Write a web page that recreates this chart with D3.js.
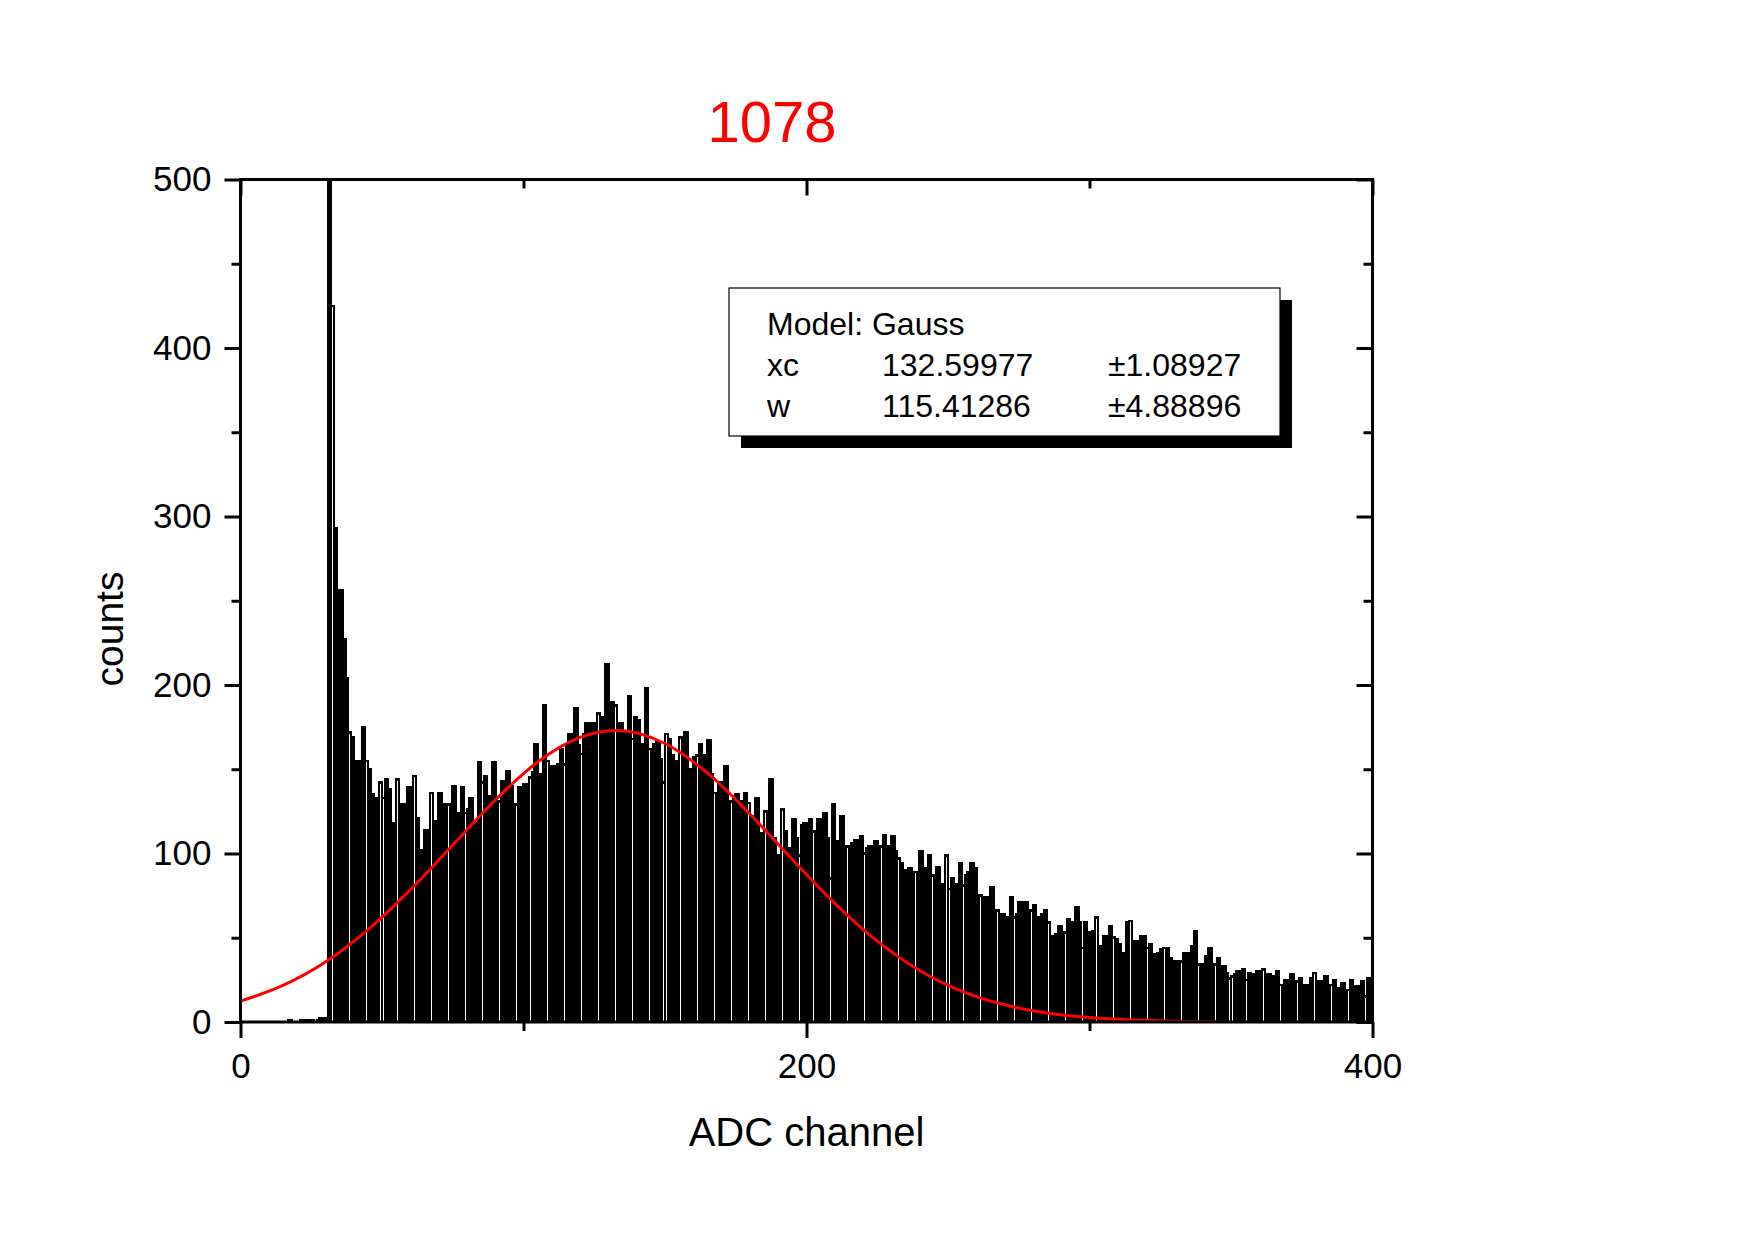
<!DOCTYPE html>
<html><head><meta charset="utf-8">
<script src="https://cdn.jsdelivr.net/npm/d3@7/dist/d3.min.js"></script>
<style>
body{margin:0;background:#fff}
svg{display:block}
text{font-family:"Liberation Sans",Arial,Helvetica,sans-serif}
</style>
</head><body>
<svg id="chart" width="1754" height="1239"></svg>
<script>
// ---------- data ----------
const title = "1078";
const xLabel = "ADC channel";
const yLabel = "counts";
const xMajorTicks = [0, 200, 400];
const xMinorTicks = [100, 300];
const yMajorTicks = [0, 100, 200, 300, 400, 500];
const yMinorTicks = [50, 150, 250, 350, 450];

// counts per ADC channel, channel 0 .. 399
const counts = [
  0,0,0,0,0,0,0,0,0,0,0,0,0,0,0,0,0,
  1,0,0,0,1,0,1,1,1,0,1,2,1,2,
  560,425,293,247,256,227,204,172,169,148,155,146,175,155,150,135,129,133,142,133,144,138,
  114,118,144,117,129,108,139,119,146,121,98,102,114,103,136,119,101,136,89,129,129,115,140,124,112,139,124,126,133,118,117,154,142,146,132,134,154,129,131,143,120,149,140,127,129,139,135,
  141,139,145,148,165,147,135,188,155,152,148,152,153,162,153,164,171,153,186,164,159,171,
  177,169,177,174,183,168,181,
  212,
  169,190,188,176,177,172,148,193,168,181,179,165,148,
  198,
  162,156,165,166,156,142,171,168,158,152,155,169,156,
  172,
  150,136,157,158,165,158,147,
  167,
  147,136,124,142,141,
  152,
  126,131,132,135,131,130,136,130,122,108,133,101,112,125,120,
  144,
  109,94,99,126,113,98,103,
  120,
  109,99,117,118,
  112,120,113,111,120,106,124,109,85,
  129,
  107,102,122,91,104,89,106,108,108,110,100,103,104,100,107,104,104,111,98,104,110,101,97,94,87,90,91,73,89,82,
  101,
  91,85,99,87,75,92,64,82,99,79,85,75,82,
  94,
  81,87,89,94,91,70,75,74,71,74,80,66,66,58,64,60,62,
  74,62,64,71,
  63,71,64,66,69,53,62,64,66,59,51,47,52,57,44,53,61,49,59,68,59,44,
  59,
  52,53,54,62,43,45,51,35,57,50,49,46,33,41,
  59,
  60,34,48,39,51,51,44,46,34,40,41,43,44,44,38,29,36,33,36,41,28,41,45,
  54,
  34,34,32,39,44,30,34,38,22,33,29,26,27,28,
  30,27,31,25,29,28,22,30,26,31,24,28,19,27,30,22,17,25,20,28,15,24,26,19,
  22,17,26,29,18,24,20,27,14,22,25,16,20,23,12,19,25,14,21,18,24,15,26,20
];

// red fit curve
const fitX = [0, 15, 30, 45, 60, 75, 90, 105, 120, 133, 150, 165, 180, 195, 210, 225, 240, 255, 270, 285, 300, 315, 330, 345];
const fitY = [12.4, 21.7, 35.6, 54.7, 78.4, 105, 131.7, 154.3, 168.9, 173, 165.3, 147.8, 123.4, 96.4, 70.4, 48, 30.6, 18.2, 10.2, 5.3, 2.6, 1.2, 0.5, 0.2];

const legendTitle = "Model: Gauss";
const legendNames = ["xc", "w"];
const legendValues = ["132.59977", "115.41286"];
const legendErrors = ["\u00B11.08927", "\u00B14.88896"];

// ---------- drawing ----------
const svg = d3.select("#chart");
const L = 240.5, R = 1372.5, T = 179.5, B = 1022;
const x = d3.scaleLinear().domain([0, 400]).range([L, R]);
const y = d3.scaleLinear().domain([0, 500]).range([B, T]);

svg.append("defs").append("clipPath").attr("id", "plotclip")
  .append("rect").attr("x", L).attr("y", T).attr("width", R - L).attr("height", B - T);

const plot = svg.append("g").attr("clip-path", "url(#plotclip)");

// histogram columns
plot.append("g")
  .attr("shape-rendering", "crispEdges")
  .selectAll("rect")
  .data(counts.map((v, i) => ({ch: i, v})).filter(d => d.v > 0))
  .join("rect")
  .attr("x", d => x(d.ch))
  .attr("width", d => x(d.ch + 1) - x(d.ch))
  .attr("y", d => y(d.v))
  .attr("height", d => y(0) - y(d.v))
  .attr("fill", "#fff")
  .attr("stroke", "#000")
  .attr("stroke-width", 2.65);

// fit curve
const line = d3.line().x((d, i) => x(fitX[i])).y(d => y(d)).curve(d3.curveMonotoneX);
plot.append("path").datum(fitY)
  .attr("d", line)
  .attr("fill", "none")
  .attr("stroke", "#ff0000")
  .attr("stroke-width", 3);

// axes
function styleAxis(g) {
  g.select(".domain").remove();
  g.selectAll(".tick line").attr("stroke", "#000").attr("stroke-width", 3);
  g.selectAll(".tick text").attr("fill", "#000").attr("font-size", 35)
    .attr("font-family", "'Liberation Sans', Arial, sans-serif");
}
const fmt = d3.format("d");
// bottom (outward)
svg.append("g").attr("transform", `translate(0,${B})`)
  .call(d3.axisBottom(x).tickValues(xMinorTicks).tickSize(9).tickFormat(""))
  .call(styleAxis);
svg.append("g").attr("transform", `translate(0,${B})`)
  .call(d3.axisBottom(x).tickValues(xMajorTicks).tickSize(16).tickPadding(15).tickFormat(fmt))
  .call(styleAxis);
// top (inward)
svg.append("g").attr("transform", `translate(0,${T})`)
  .call(d3.axisTop(x).tickValues(xMinorTicks).tickSize(-9).tickFormat(""))
  .call(styleAxis);
svg.append("g").attr("transform", `translate(0,${T})`)
  .call(d3.axisTop(x).tickValues(xMajorTicks).tickSize(-16).tickFormat(""))
  .call(styleAxis);
// left (outward)
svg.append("g").attr("transform", `translate(${L},0)`)
  .call(d3.axisLeft(y).tickValues(yMinorTicks).tickSize(9).tickFormat(""))
  .call(styleAxis);
svg.append("g").attr("transform", `translate(${L},0)`)
  .call(d3.axisLeft(y).tickValues(yMajorTicks).tickSize(16).tickPadding(13).tickFormat(fmt))
  .call(styleAxis);
// right (inward)
svg.append("g").attr("transform", `translate(${R},0)`)
  .call(d3.axisRight(y).tickValues(yMinorTicks).tickSize(-9).tickFormat(""))
  .call(styleAxis);
svg.append("g").attr("transform", `translate(${R},0)`)
  .call(d3.axisRight(y).tickValues(yMajorTicks).tickSize(-16).tickFormat(""))
  .call(styleAxis);

// frame
svg.append("rect").attr("x", L).attr("y", T).attr("width", R - L).attr("height", B - T)
  .attr("fill", "none").attr("stroke", "#000").attr("stroke-width", 3);

// title & axis labels
svg.append("text").attr("x", 772).attr("y", 142).attr("text-anchor", "middle")
  .attr("font-size", 58).attr("fill", "#ff0000").text(title);
svg.append("text").attr("x", (L + R) / 2).attr("y", 1146).attr("text-anchor", "middle")
  .attr("font-size", 40).attr("fill", "#000").text(xLabel);
svg.append("text").attr("transform", "translate(123,629) rotate(-90)").attr("text-anchor", "middle")
  .attr("font-size", 39).attr("fill", "#000").text(yLabel);

// fit legend box with shadow
const bx = 729, by = 288, bw = 551, bh = 148, sh = 12;
svg.append("rect").attr("x", bx + sh).attr("y", by + sh).attr("width", bw).attr("height", bh).attr("fill", "#000");
svg.append("rect").attr("x", bx).attr("y", by).attr("width", bw).attr("height", bh)
  .attr("fill", "#fff").attr("stroke", "#000").attr("stroke-width", 1.2);
const lg = svg.append("g").attr("font-size", 32).attr("fill", "#000");
lg.append("text").attr("x", 767).attr("y", 335).text(legendTitle);
legendNames.forEach((n, i) => {
  const yy = 376 + i * 40.5;
  lg.append("text").attr("x", 767).attr("y", yy).text(n);
  lg.append("text").attr("x", 882).attr("y", yy).text(legendValues[i]);
  lg.append("text").attr("x", 1108).attr("y", yy).text(legendErrors[i]);
});
</script>
</body></html>
